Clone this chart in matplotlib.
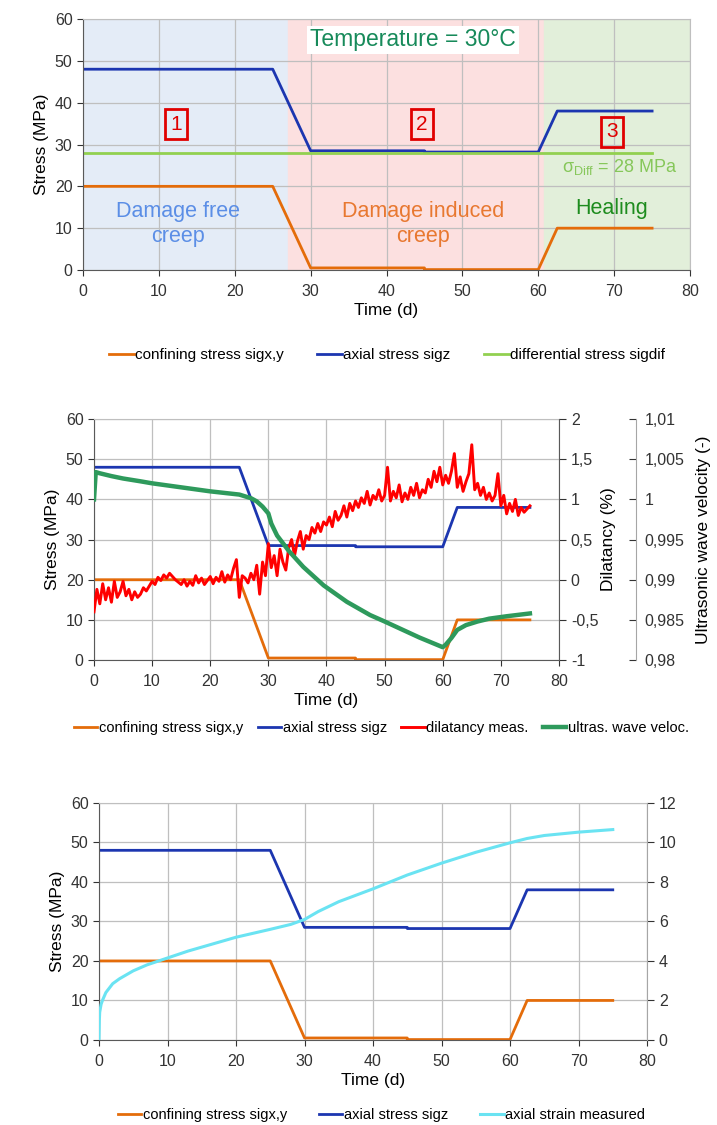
import numpy as np
import matplotlib.pyplot as plt
from matplotlib.ticker import MultipleLocator, FixedLocator, FixedFormatter

plt.rcParams['font.family'] = ['Liberation Sans', 'DejaVu Sans']
plt.rcParams['mathtext.fontset'] = 'custom'
plt.rcParams['mathtext.rm'] = 'Liberation Sans'
plt.rcParams['mathtext.it'] = 'Liberation Sans'

# load history (time in d, stress in MPa)
t_conf = [0, 25, 30, 45, 45, 60, 62.5, 75]
conf = [20, 20, 0.5, 0.5, 0.1, 0.1, 10, 10]
t_axial = [0, 25, 30, 45, 45, 60, 62.5, 75]
axial = [48, 48, 28.5, 28.5, 28.2, 28.2, 38, 38]
t_dif = [0, 75]
sigdif = [28, 28]

# measured dilatancy (%), read every 0.5 d from 0 to 75 d
t_dil = np.arange(0, 75.5, 0.5)
dil = [-0.40, -0.12, -0.30, -0.05, -0.25, -0.10, -0.28, -0.02, -0.22, -0.15,
       -0.02, -0.20, -0.12, -0.25, -0.15, -0.22, -0.18, -0.10, -0.14, -0.08,
       -0.02, -0.06, 0.03, -0.01, 0.06, 0.02, 0.08, 0.04, 0.00, -0.03,
       -0.06, 0.00, -0.08, -0.02, -0.07, 0.05, -0.04, 0.02, -0.06, -0.01,
       0.04, -0.05, 0.03, -0.02, 0.10, -0.03, 0.06, 0.00, 0.14, 0.25,
       -0.22, 0.05, 0.02, -0.04, 0.08, 0.00, 0.18, -0.18, 0.22, 0.05,
       0.45, 0.15, 0.30, 0.05, 0.38, 0.22, 0.12, 0.40, 0.50, 0.30,
       0.48, 0.60, 0.38, 0.55, 0.50, 0.65, 0.58, 0.70, 0.60, 0.72,
       0.68, 0.78, 0.66, 0.85, 0.74, 0.80, 0.92, 0.78, 0.95, 0.86,
       0.98, 0.90, 1.02, 0.95, 1.10, 0.93, 1.05, 1.00, 1.12, 0.98,
       1.05, 1.40, 0.98, 1.10, 1.02, 1.18, 0.97, 1.08, 1.00, 1.15,
       1.05, 1.20, 1.02, 1.12, 1.08, 1.25, 1.15, 1.35, 1.22, 1.40,
       1.18, 1.30, 1.20, 1.35, 1.57, 1.15, 1.28, 1.10, 1.22, 1.32,
       1.68, 1.12, 1.20, 1.05, 1.15, 1.00, 1.08, 0.98, 1.05, 1.32,
       0.92, 1.05, 0.82, 0.95, 0.85, 1.00, 0.80, 0.90, 0.84, 0.88,
       0.92]

# normalised ultrasonic wave velocity (-)
t_vel = [0, 0.3, 1, 3, 5, 8, 10, 15, 20, 25, 27, 28, 29, 30, 30.5, 31.5, 33.5,
         36, 39.5, 43.5, 47.5, 50, 53, 56, 59, 60, 60.5, 61.5, 62.5, 64, 66,
         68, 71, 75]
vel = [1.0000, 1.0034, 1.00325, 1.0029, 1.0026, 1.00225, 1.0020, 1.0015,
       1.0010, 1.0006, 1.00015, 0.99975, 0.9991, 0.99825, 0.9970, 0.9955,
       0.9936, 0.9916, 0.9893, 0.98725, 0.9856, 0.9848, 0.9838, 0.9828,
       0.9819, 0.9816, 0.9819, 0.98275, 0.98375, 0.98435, 0.9848, 0.98515,
       0.98545, 0.9858]

# measured axial strain (%)
t_strain = [0, 0.05, 0.1, 0.3, 0.5, 1, 2, 3, 5, 7, 10, 13, 15, 20, 25, 28, 30,
            32, 35, 40, 45, 50, 55, 60, 62.5, 65, 70, 75]
strain = [0, 1.0, 1.4, 1.8, 2.0, 2.4, 2.85, 3.1, 3.5, 3.8, 4.15, 4.5, 4.7,
          5.2, 5.6, 5.85, 6.1, 6.5, 7.0, 7.65, 8.35, 8.95, 9.5, 9.98, 10.2,
          10.35, 10.52, 10.65]

ORANGE = '#E46C0A'
BLUE = '#1C36B0'
LGREEN = '#92D050'
RED = '#FF0000'
VGREEN = '#2E9A5C'
CYAN = '#6AE3F2'
GRID = '#BFBFBF'
DARK = '#595959'


def style(ax):
    ax.set_xlim(0, 80)
    ax.set_ylim(0, 60)
    ax.xaxis.set_major_locator(MultipleLocator(10))
    ax.yaxis.set_major_locator(MultipleLocator(10))
    ax.grid(True, color=GRID, lw=0.9)
    ax.set_axisbelow(True)
    for s in ['left', 'bottom']:
        ax.spines[s].set_color(DARK)
    for s in ['top', 'right']:
        ax.spines[s].set_color(GRID)
    ax.tick_params(labelsize=11.5, colors='#333333', length=4, direction='out')
    ax.tick_params(axis='x', pad=6)
    ax.set_xlabel('Time (d)', fontsize=12.5, labelpad=3)
    ax.set_ylabel('Stress (MPa)', fontsize=12.5)


def comma(vals):
    return [('%g' % v).replace('.', ',') for v in vals]


fig = plt.figure(figsize=(7.17, 11.25), dpi=100)

# ---------------- top panel ----------------
ax1 = fig.add_axes([0.1158, 0.760, 0.8466, 0.2231])
style(ax1)
ax1.axvspan(0, 27, color='#E4ECF7', zorder=0)
ax1.axvspan(27, 60.8, color='#FCE0E0', zorder=0)
ax1.axvspan(60.8, 80, color='#E2EFDA', zorder=0)
l1, = ax1.plot(t_conf, conf, color=ORANGE, lw=2, label='confining stress sigx,y')
l2, = ax1.plot(t_axial, axial, color=BLUE, lw=2, label='axial stress sigz')
l3, = ax1.plot(t_dif, sigdif, color=LGREEN, lw=2, label='differential stress sigdif')

ax1.text(43.5, 55, 'Temperature = 30°C', fontsize=16.5, color='#178A5A',
         ha='center', va='center',
         bbox=dict(facecolor='white', edgecolor='none', pad=2))
for x, y, s in [(12.3, 34.9, '1'), (44.7, 34.9, '2'), (69.7, 33.0, '3')]:
    ax1.text(x, y, s, fontsize=15, color='#E00000', ha='center', va='center',
             bbox=dict(facecolor='none', edgecolor='#E00000', lw=2,
                       boxstyle='square,pad=0.25'))
ax1.text(63.1, 24.6, r'$\sigma_{\rm Diff}$ = 28 MPa', fontsize=13,
         color='#86C75A', ha='left', va='center')
ax1.text(12.5, 11.0, 'Damage free\ncreep', fontsize=15.5, color='#5B8EE6',
         ha='center', va='center', linespacing=1.25)
ax1.text(44.8, 11.0, 'Damage induced\ncreep', fontsize=15.5, color='#E87830',
         ha='center', va='center', linespacing=1.25)
ax1.text(69.7, 14.8, 'Healing', fontsize=15.5, color='#1E8C1E',
         ha='center', va='center')

fig.legend(handles=[l1, l2, l3], loc='center', bbox_to_anchor=(0.54, 1 - 355 / 1125),
           ncol=3, frameon=False, fontsize=11, handlelength=1.6,
           handletextpad=0.1, columnspacing=2.2)

# ---------------- middle panel ----------------
ax2 = fig.add_axes([0.1311, 0.4133, 0.6485, 0.2142])
style(ax2)
ax2.spines['right'].set_visible(False)
m1, = ax2.plot(t_conf, conf, color=ORANGE, lw=2, label='confining stress sigx,y')
m2, = ax2.plot(t_axial, axial, color=BLUE, lw=2, label='axial stress sigz')

ax2b = ax2.twinx()
ax2b.set_ylim(-1, 2)
ax2b.yaxis.set_major_locator(FixedLocator([-1, -0.5, 0, 0.5, 1, 1.5, 2]))
ax2b.yaxis.set_major_formatter(FixedFormatter(comma([-1, -0.5, 0, 0.5, 1, 1.5, 2])))
ax2b.spines['right'].set_color(DARK)
for s in ['left', 'top', 'bottom']:
    ax2b.spines[s].set_visible(False)
ax2b.tick_params(labelsize=11.5, colors='#333333', length=5, direction='out')
ax2b.set_ylabel('Dilatancy (%)', fontsize=12.5, labelpad=2)
m3, = ax2b.plot(t_dil, dil, color=RED, lw=2.1, label='dilatancy meas.')

ax2c = ax2.twinx()
ax2c.set_ylim(0.98, 1.01)
vt = [0.98, 0.985, 0.99, 0.995, 1.0, 1.005, 1.01]
ax2c.yaxis.set_major_locator(FixedLocator(vt))
ax2c.yaxis.set_major_formatter(FixedFormatter(comma(vt)))
ax2c.spines['right'].set_position(('axes', 1.166))
ax2c.spines['right'].set_color('#A6A6A6')
for s in ['left', 'top', 'bottom']:
    ax2c.spines[s].set_visible(False)
ax2c.tick_params(labelsize=11.5, colors='#333333', length=5, direction='in',
                 pad=6)
ax2c.set_ylabel('Ultrasonic wave velocity (-)', fontsize=12.5, labelpad=8)
m4, = ax2c.plot(t_vel, vel, color=VGREEN, lw=3.2, label='ultras. wave veloc.')

fig.legend(handles=[m1, m2, m3, m4], loc='center', bbox_to_anchor=(0.532, 1 - 728 / 1125),
           ncol=4, frameon=False, fontsize=10.5, handlelength=1.6,
           handletextpad=0.1, columnspacing=1.0)

# ---------------- bottom panel ----------------
ax3 = fig.add_axes([0.1381, 0.0756, 0.7643, 0.2107])
style(ax3)
ax3.spines['right'].set_visible(False)
b1, = ax3.plot(t_conf, conf, color=ORANGE, lw=2, label='confining stress sigx,y')
b2, = ax3.plot(t_axial, axial, color=BLUE, lw=2, label='axial stress sigz')
ax3b = ax3.twinx()
ax3b.set_ylim(0, 12)
ax3b.yaxis.set_major_locator(MultipleLocator(2))
ax3b.spines['right'].set_color('#A6A6A6')
for s in ['left', 'top', 'bottom']:
    ax3b.spines[s].set_visible(False)
ax3b.tick_params(labelsize=11.5, colors='#333333', length=5, direction='out')
b3, = ax3b.plot(t_strain, strain, color=CYAN, lw=2.2, label='axial strain measured')

fig.legend(handles=[b1, b2, b3], loc='center', bbox_to_anchor=(0.532, 1 - 1115 / 1125),
           ncol=3, frameon=False, fontsize=10.5, handlelength=1.6,
           handletextpad=0.1, columnspacing=2.2)

fig.savefig('out.png', dpi=100)
